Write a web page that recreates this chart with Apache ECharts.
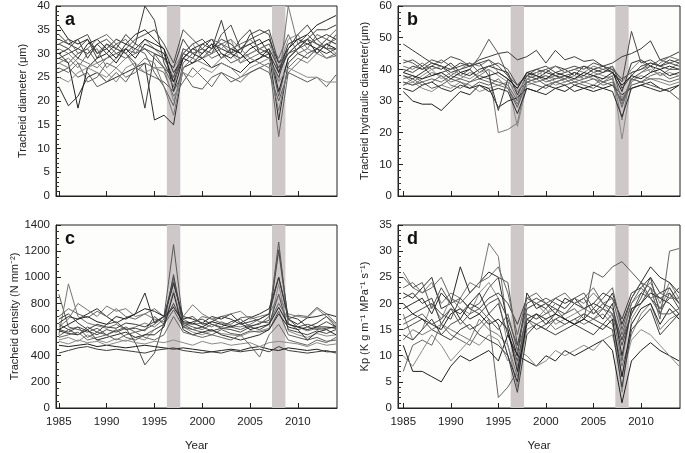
<!DOCTYPE html>
<html><head><meta charset="utf-8">
<script src="https://cdn.jsdelivr.net/npm/echarts@6/dist/echarts.min.js"></script>
<style>html,body{margin:0;padding:0;background:#fff}#c{width:685px;height:453px}</style>
</head><body><div id="c"></div>
<script>
const years = [1985,1986,1987,1988,1989,1990,1991,1992,1993,1994,1995,1996,1997,1998,1999,2000,2001,2002,2003,2004,2005,2006,2007,2008,2009,2010,2011,2012,2013,2014];
const xTicks = [1985,1990,1995,2000,2005,2010];
const droughtBands = [[1996.3,1997.7],[2007.3,2008.7]];

const tracheidDiameter = [
[36,33,32,33,30,31,33,32,34,35,33,31,22,29,31,30,32,31,30,29,31,32,33,28,31,33,34,36,37,38],
[33,32,31,33,29,32,31,34,32,40,37,28,24,30,29,32,31,33,32,30,34,35,34,26,30,32,33,35,35,36],
[29,28,30,31,28,29,30,29,31,30,26,23,19,28,30,31,29,30,28,29,30,31,30,21,29,31,32,33,31,34],
[28,29,27,30,31,27,29,31,30,33,31,29,25,31,30,29,30,32,33,31,29,30,29,24,40,32,30,31,32,33],
[23,19,21,25,26,24,25,26,27,28,16,17,15,27,28,29,27,28,27,26,28,29,30,16,28,30,29,31,30,31],
[31,30,28,27,26,25,27,29,30,31,30,29,27,30,32,29,30,31,33,28,30,31,32,27,33,34,31,30,32,30],
[32,31,33,34,30,32,30,31,33,34,35,32,28,35,33,31,30,34,36,31,33,34,35,28,30,32,34,32,31,29.5],
[27,26,28,24,25,28,27,25,26,28,27,26,21,24,27,25,23,26,25,24,26,27,28,12.5,26,28,30,31,29,30],
[30,28,18.5,27,29,30,28,31,29,32,31,30,24,29,28,30,32,29,31,30,28,29,31,22,29,31,33,30,32,31],
[34,32,33,29,32,30,32,30,28,18.5,30,29,27,33,30,29,31,37,30,33,35,30,29,25,31,34,36,33,34,33],
[26,27,25,26,23,24,26,24,27,26,25,24,22,26,23,22.5,25,26,24,25,26,27,26,20,26,25,24,25,23,25.5],
[28,27,29,28,27,29,31,30,27,29,28,23,17,27,29,28,27,29,30,28,29,28,27,18,27,29,28,30,29,29.5],
[30,31,29,32,33,31,29,32,31,33,32,31,26,29,31,32,33,30,29,31,32,33,30,26,32,33,32,31,33,32],
[25,24,26,27,28,26,24,27,28,26,27,27,20,26,25,27,26,28,27,25,27,28,29,24,27,26,25,25,24,24],
[29,30,31,30,32,33,31,30,32,31,29,27,25,30,32,33,31,32,30,31,32,30,31,27,30,31,33,32,31,31],
[32,33,30,31,33,34,32,33,30,31,30,27,23,31,30,31,33,32,31,32,33,31,32,29,34,30,31,34,33,35]
];

const hydraulicDiameter = [
[48,46,44,42,41,40,42,41,43,44,45,45.5,43,44,46,42,46,43,44,42.5,43,41,42,44,45,46.5,49,43,44,45.5],
[43,42,40,41,43,41,38,40,44,49.5,45,38,33,36,37,38,37,38,39,37,38,39,40,30,37,39,41,43,42,43],
[36,35,37,39,38,36,37,39,38,40,20,21,23,37,36,37,38,36,37,38,37,36,38,24,39,40,41,38,40,42],
[38,37,39,41,40,42,39,38,40,41,40,39,32,38,37,39,38,37,39,38,40,41,39,33,42,43,41,40,41,40],
[35,36,34,33,35,34,36,35,33,34,35,36,22,35,36,37,35,36,37,36,35,37,38,18,36,38,37,36,35,36],
[40,39,41,38,39,40,41,42,39,41,42,40,35,38,39,40,38,39,40,41,39,40,39,36,52,42,43,41,42,41],
[37,38,36,37,36,38,37,36,38,37,36,35,30,37,38,36,37,38,36,37,38,36,37,28,37,36,38,39,37,38],
[33,30,29,29,27,30,33,32,35,34,28,30,31,34,33,35,34,33,35,34,33,34,35,32,34,35,36,34,33,35],
[39,41,40,42,41,39,40,41,42,38,27,37,34,39,40,39,41,40,38,41,40,39,41,34,38,41,42,41,43,42],
[36,35,36,34,35,37,36,34,36,35,37,34,28,36,35,34,36,35,36,35,34,36,35,30,35,36,35,34,33,30.5],
[41,40,42,40,41,38,40,42,41,43,39,37,31,39,38,40,41,39,40,39,41,40,41,36,40,43,39,42,44,43],
[34,33,35,36,34,33,35,34,35,33,34,33,26,34,33,32,34,35,33,34,35,34,33,25,34,35,34,33,34,35],
[38,36,38,40,37,39,38,37,39,40,38,36,33,37,39,38,36,37,38,37,39,38,37,31,36,39,40,38,39,38],
[42,43,41,43,42,44,43,41,42,43,41,38,35,38,40,41,39,40,41,40,42,41,40,37,39,40,42,41,40,40],
[35,37,35,36,38,35,34,36,37,36,35,34,29,36,37,35,36,37,35,36,37,35,36,29,37,36,37,37,36,37],
[39,38,37,38,39,37,39,40,37,38,39,37,34,39,38,37,39,38,37,39,38,37,39,35,38,37,39,40,38,39]
];

const tracheidDensity = [
[870,620,600,580,610,560,590,620,580,600,640,700,1250,650,620,600,640,610,620,600,630,640,700,1270,650,600,620,600,610,620],
[560,950,700,650,630,610,640,600,620,650,620,680,1000,680,640,650,620,660,630,620,640,680,720,1200,640,620,590,610,600,630],
[650,700,680,720,760,700,650,690,720,880,650,700,950,700,680,650,700,680,720,650,690,720,760,1000,680,640,690,700,720,700],
[520,540,510,560,520,500,530,510,540,520,600,640,900,620,580,560,590,570,560,550,580,590,610,950,590,560,540,570,550,560],
[600,580,620,590,560,600,580,610,500,330,420,650,800,640,600,620,590,610,600,580,620,600,640,870,600,580,560,590,570,600],
[700,760,720,690,740,700,760,700,680,720,760,700,990,650,640,700,680,650,640,690,700,660,650,800,680,710,700,770,720,650],
[480,470,480,490,470,480,470,460,470,480,470,460,450,460,450,440,430,440,450,440,460,470,450,440,460,450,440,450,430,430],
[420,440,460,470,450,440,450,440,430,420,440,450,460,440,430,420,430,420,440,430,440,450,430,470,440,430,420,430,440,420],
[550,600,620,540,580,560,600,540,520,560,600,640,750,620,600,580,560,600,570,560,590,580,600,740,560,540,520,540,510,520],
[620,680,800,750,700,780,740,760,700,720,680,660,780,700,790,720,680,700,720,740,680,700,720,860,720,700,690,760,700,640],
[590,570,560,600,520,540,560,580,540,560,560,620,880,600,560,580,600,560,540,520,540,560,600,720,620,600,520,580,600,560],
[510,490,520,500,510,480,500,520,500,490,510,500,520,500,480,510,490,500,480,490,500,470,500,510,500,490,470,500,480,490],
[640,600,560,620,580,640,660,600,610,590,700,640,1020,620,660,680,640,620,660,680,620,650,670,1210,680,620,640,620,660,620],
[540,560,580,520,540,560,520,560,580,540,520,560,700,580,560,540,560,540,520,560,480,390,560,640,520,500,480,520,500,540],
[600,640,680,700,660,640,700,680,720,760,740,700,770,660,650,620,660,640,620,650,600,620,640,770,640,620,600,620,620,610],
[680,720,650,600,640,620,610,650,640,620,660,700,960,680,700,640,660,700,680,640,660,680,720,1000,700,680,620,650,700,620]
];

const specificConductivity = [
[26,23,22,24,20,22,21,24,23,31.5,29,15,8,19,20,18,20,19,21,20,22,20,18,13,20,22,24,20,24,21],
[22,21,23,25,19,20,27,22,24,26,25,16,10,22,19,20,18,21,20,19,20,19,22,16,21,24,27,25,24,22],
[18,13,15,20,17,21,19,18,22,24,21,12,4,18,17,19,16,17,18,19,18,19,17,3,17,20,23,19,23,20],
[15,16,17,15,14,16,17,15,16,18,20,14,9,17,16,15,17,16,17,18,17,16,18,12,18,21,25,18,22,19],
[7,12,13,12,16,14,13,12,15,17,2,4,7,18,17,18,19,17,16,18,17,19,18,9,19,20,23,17,30,30.5],
[12,7,7,6,5,8,10,9,10,11,9,14,10,9,8,10,9,11,10,11,12,13,11,1,9,11,12.5,11,10,9],
[21,22,20,21,16,19,18,20,19,21,22,20,16,21,20,19,21,20,21,19,20,22,21,17,22,23,25,22,23,20],
[25,23,24,19,23,20,21,19,20,23,25,24,12,19,20,21,20,19,21,22,19,21,23,15,21,24,23,21,22,20],
[13,15,14,15,16,15,14,13,17,15,14,12,6,15,16,17,15,16,17,16,17,18,16,8,14,18,20,15,17,18],
[19,20,21,18,22,20,17,20,22,18,16,10,5,17,18,16,18,17,16,17,19,17,20,10,19,20,22,21,20,18],
[10,8,11,14,12,9,11,13,12,14,13,9,11,10,8,9,11,10,11,12,11,13,14,6,13,15,14,12,10,8],
[17,18,19,20,18,17,21,19,18,20,21,17,12,20,21,20,19,18,20,21,18,20,19,13,18,22,21,19,21,23],
[23,24,22,23,25,21,20,22,24,25,27,22,14,21,22,20,21,22,20,21,23,20,21,14,20,23,21,22,21,21],
[20,18,17,16,15,18,19,17,18,16,17,15,7,16,18,17,18,17,16,17,16,15,17,6,16,19,20,16,19,17],
[14,13,15,17,14,13,15,16,14,13,12,10,3,14,16,15,14,15,16,15,14,16,15,4,15,17,19,14,16,18],
[16,17,18,16,17,19,16,18,19,17,15,18,11,17,15,16,17,18,19,17,26,25,27,28,26,24,21,18,18,19]
];

const panelLetters = ['a','b','c','d'];
const yNames = ['Tracheid diameter (\u03bcm)','Tracheid hydraulic diameter(\u03bcm)','Tracheid density (N mm\u207b\u00b2)','Kp (K g m\u207b\u00b9 MPa\u207b\u00b9 s\u207b\u00b9)'];
const yMax = [40,60,1400,35];
const yInterval = [5,10,200,5];
const yMinorSplit = [5,5,4,5];
const panelData = [tracheidDiameter, hydraulicDiameter, tracheidDensity, specificConductivity];

const lineColors = ['#1e1e1e','#3c3c3c','#5a5a5a','#777777','#2a2a2a','#8a8a8a','#4a4a4a','#666666'];
const FONT = 'Liberation Sans';
const plain = v => String(v);

const grids = [
  {left:56, top:6, width:281, height:190},
  {left:398, top:6, width:282, height:190},
  {left:56, top:225, width:281, height:190},
  {left:398, top:225, width:282, height:190}
];
const xMin = [1984.7,1984.45,1984.7,1984.45];

const xAxes = grids.map((g,i)=>({
  type:'value', gridIndex:i, min:xMin[i], max:2014.1,
  axisLine:{show:true, lineStyle:{color:'#222', width:1}},
  axisTick:{show:true, inside:true, length:5, customValues:xTicks, lineStyle:{color:'#222'}},
  axisLabel:{show:i>=2, customValues:xTicks, formatter:plain, color:'#222', fontFamily:FONT, fontSize:11.5, margin:8},
  splitLine:{show:false},
  name: i>=2 ? 'Year' : '', nameLocation:'middle', nameGap:32,
  nameTextStyle:{color:'#222', fontFamily:FONT, fontSize:11.5}
}));
const yAxes = grids.map((g,i)=>({
  type:'value', gridIndex:i, min:0, max:yMax[i], interval:yInterval[i],
  axisLine:{show:true, lineStyle:{color:'#222', width:1}},
  axisTick:{show:true, inside:true, length:5, lineStyle:{color:'#222'}},
  minorTick:{show:true, splitNumber:yMinorSplit[i], length:3, lineStyle:{color:'#333'}},
  axisLabel:{color:'#222', formatter:plain, fontFamily:FONT, fontSize:11.5, margin:6},
  splitLine:{show:false},
  name:yNames[i], nameLocation:'middle', nameGap: i===2 ? 34 : 28,
  nameTextStyle:{color:'#222', fontFamily:FONT, fontSize:11}
}));

const series = [];
panelData.forEach((rows,i)=>{
  series.push({
    type:'line', xAxisIndex:i, yAxisIndex:i, data:[], silent:true, z:1,
    markArea:{silent:true, itemStyle:{color:'#cfc8c9'},
      data: droughtBands.map(b=>[{xAxis:b[0]},{xAxis:b[1]}])}
  });
  rows.forEach((row,j)=>{
    series.push({
      type:'line', xAxisIndex:i, yAxisIndex:i, silent:true, z:2,
      showSymbol:false, symbol:'none',
      data: years.map((y,k)=>[y,row[k]]),
      lineStyle:{width:1, color:lineColors[(j+i)%lineColors.length]}
    });
  });
});

const chart = echarts.init(document.getElementById('c'), null, {renderer:'canvas'});
chart.setOption({
  animation:false,
  backgroundColor:'#ffffff',
  grid: grids.map(g=>Object.assign({show:true, backgroundColor:'#fdfdfb', borderColor:'#222', borderWidth:1}, g)),
  xAxis:xAxes, yAxis:yAxes, series:series,
  graphic: grids.map((g,i)=>({
    type:'text', left:g.left+9, top:g.top+5, z:10,
    style:{text:panelLetters[i], font:'bold 18px "Liberation Sans"', fill:'#111'}
  }))
});
</script>
</body></html>
